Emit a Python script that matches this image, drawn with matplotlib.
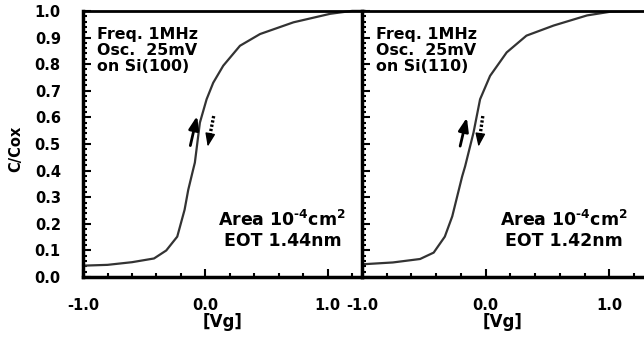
import matplotlib
matplotlib.use("agg")
from matplotlib import pyplot as plt
from matplotlib.ticker import MultipleLocator
import numpy as np

plt.rcParams['font.family'] = ['DejaVu Sans']
plt.rcParams['font.weight'] = 'bold'
plt.rcParams['mathtext.fontset'] = 'custom'
plt.rcParams['mathtext.rm'] = 'DejaVu Sans:bold'
plt.rcParams['mathtext.bf'] = 'DejaVu Sans:bold'

# C-V curve, Si(100)
v_100 = [-1.0, -0.8, -0.6, -0.42, -0.32, -0.23, -0.17, -0.14, -0.10, -0.086, -0.045,
         0.01, 0.064, 0.146, 0.283, 0.447, 0.72, 1.02, 1.2, 1.3]
c_100 = [0.043, 0.046, 0.056, 0.07, 0.10, 0.152, 0.253, 0.328, 0.404, 0.43, 0.58,
         0.668, 0.73, 0.794, 0.869, 0.913, 0.957, 0.989, 1.0, 1.0]

# C-V curve, Si(110)
v_110 = [-1.0, -0.75, -0.53, -0.42, -0.33, -0.27, -0.23, -0.19, -0.166, -0.098, -0.045,
         0.036, 0.17, 0.33, 0.55, 0.82, 1.01, 1.3]
c_110 = [0.048, 0.055, 0.068, 0.092, 0.152, 0.228, 0.303, 0.378, 0.416, 0.543, 0.668,
         0.756, 0.844, 0.907, 0.945, 0.983, 0.997, 1.0]

x_ticks = [-1.0, 0.0, 1.0]
x_labels = ['-1.0', '0.0', '1.0']
y_ticks = np.round(np.arange(0, 1.01, 0.1), 1)

# sweep arrows (start, end) in data coords
up_100 = ((-0.123, 0.494), (-0.068, 0.605))
down_100 = ((0.068, 0.605), (0.019, 0.49))
up_110 = ((-0.206, 0.492), (-0.152, 0.599))
down_110 = ((-0.023, 0.605), (-0.058, 0.49))

fig = plt.figure(figsize=(6.44, 3.4), dpi=100)
ax1 = fig.add_axes([0.129, 0.185, 0.433, 0.783])
ax2 = fig.add_axes([0.562, 0.185, 0.438, 0.783])


def style(ax, show_ylabels):
    ax.set_xlim(-1.0, 1.28)
    ax.set_ylim(0, 1.0)
    ax.set_xticks(x_ticks)
    ax.set_xticklabels(x_labels, fontsize=10.5, fontweight='bold')
    ax.xaxis.set_minor_locator(MultipleLocator(0.2))
    ax.set_yticks(y_ticks)
    ax.yaxis.set_minor_locator(MultipleLocator(0.02))
    if show_ylabels:
        ax.set_yticklabels(['%.1f' % y for y in y_ticks], fontsize=10.5, fontweight='bold')
    else:
        ax.set_yticklabels([])
    ax.tick_params(which='major', direction='in', length=6, width=1.5)
    ax.tick_params(which='minor', direction='in', length=3, width=1.5)
    ax.tick_params(axis='x', which='major', pad=15)
    ax.tick_params(axis='y', which='major', pad=16)
    ax.tick_params(top=False, right=False)
    ax.spines['right'].set_visible(False)
    ax.spines['left'].set_linewidth(2.5)
    ax.spines['bottom'].set_linewidth(2.5)
    ax.spines['top'].set_linewidth(2.0)
    ax.set_xlabel('[Vg]', fontsize=12, fontweight='bold', labelpad=0)


def arrows(ax, up, down):
    ax.annotate('', xy=up[1], xytext=up[0],
                arrowprops=dict(arrowstyle='-|>,head_length=0.8,head_width=0.3',
                                color='black', lw=2.0, shrinkA=0, shrinkB=0))
    # dotted shaft, solid head
    mid = ((down[0][0] + 3 * down[1][0]) / 4, (down[0][1] + 3 * down[1][1]) / 4)
    ax.plot([down[0][0], mid[0]], [down[0][1], mid[1]], color='black', lw=2.4,
            ls=(0, (0.7, 0.6)), solid_capstyle='butt', dash_capstyle='butt')
    ax.annotate('', xy=down[1], xytext=mid,
                arrowprops=dict(arrowstyle='-|>,head_length=0.8,head_width=0.3',
                                color='black', lw=1.0, shrinkA=0, shrinkB=0))


style(ax1, True)
style(ax2, False)
ax2.set_zorder(3)
ax1.set_ylabel('C/Cox', fontsize=10.5, fontweight='bold')
ax1.yaxis.set_label_coords(-0.215, 0.48)

ax1.plot(v_100, c_100, color='#333333', lw=1.6, clip_on=False, zorder=2)
ax2.plot(v_110, c_110, color='#333333', lw=1.6, zorder=2)

arrows(ax1, up_100, down_100)
arrows(ax2, up_110, down_110)

info = 'Freq. 1MHz\nOsc.  25mV\non Si(%s)'
ax1.text(-0.89, 0.94, info % '100', fontsize=11.4, fontweight='bold', va='top', linespacing=1.1)
ax2.text(-0.89, 0.94, info % '110', fontsize=11.4, fontweight='bold', va='top', linespacing=1.1)

area = 'Area 10$^{\\text{-4}}$cm$^{\\text{2}}$\nEOT %s'
ax1.text(0.63, 0.1, area % '1.44nm', fontsize=12.5, fontweight='bold', ha='center',
         va='bottom', multialignment='center', linespacing=1.15)
ax2.text(0.63, 0.1, area % '1.42nm', fontsize=12.5, fontweight='bold', ha='center',
         va='bottom', multialignment='center', linespacing=1.15)

plt.savefig('out.png', dpi=100)
